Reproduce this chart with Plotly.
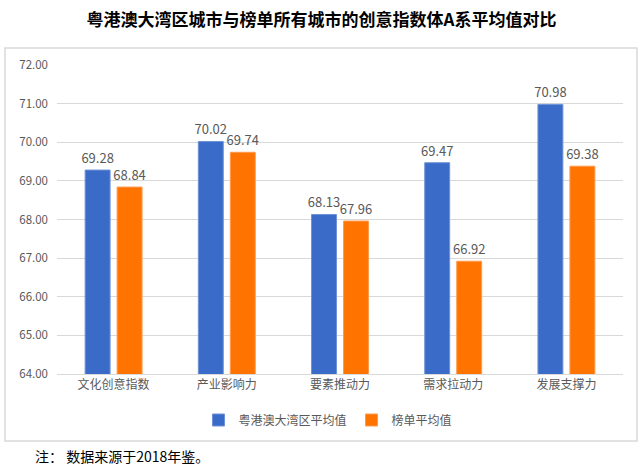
import plotly.graph_objects as go

categories = ["文化创意指数", "产业影响力", "要素推动力", "需求拉动力", "发展支撑力"]
gba_avg = [69.28, 70.02, 68.13, 69.47, 70.98]
list_avg = [68.84, 69.74, 67.96, 66.92, 69.38]
series_names = ["粤港澳大湾区平均值", "榜单平均值"]
y_ticks = [64, 65, 66, 67, 68, 69, 70, 71, 72]

W, H = 643, 470
L, R, T, B = 57, 20, 65, 96
pw, ph = W - L - R, H - T - B

def px_x(x):
    return (x - L) / pw

def px_y(y):
    return (H - B - y) / ph

font_cjk = "Noto Sans CJK SC, Open Sans, sans-serif"
grey = "#595959"

fig = go.Figure()
fig.add_trace(go.Bar(
    x=categories, y=gba_avg, name=series_names[0],
    marker=dict(color="#3A6BC8", line=dict(color="#6E92D6", width=1)),
    text=[f"{v:.2f}" for v in gba_avg], textposition="outside",
    constraintext="none", textangle=0,
    textfont=dict(color=grey, size=13), cliponaxis=False,
))
fig.add_trace(go.Bar(
    x=categories, y=list_avg, name=series_names[1],
    marker=dict(color="#FF7400", line=dict(color="#FF9A4D", width=1)),
    text=[f"{v:.2f}" for v in list_avg], textposition="outside",
    constraintext="none", textangle=0,
    textfont=dict(color=grey, size=13), cliponaxis=False,
))

fig.update_layout(
    width=W, height=H,
    margin=dict(l=L, r=R, t=T, b=B),
    paper_bgcolor="white", plot_bgcolor="white",
    font=dict(family=font_cjk, color=grey, size=12),
    barmode="group", bargap=0.435, bargroupgap=0.22,
    showlegend=True,
    legend=dict(orientation="h", x=px_x(328), xanchor="center",
                y=px_y(420), yanchor="middle",
                font=dict(size=12, color=grey), traceorder="normal",
                itemwidth=30),
    title=dict(text="<b>粤港澳大湾区城市与榜单所有城市的创意指数体A系平均值对比</b>",
               x=0.5, xanchor="center", y=1 - 20 / H, yanchor="middle",
               yref="container",
               font=dict(family=font_cjk, size=17, color="black")),
    xaxis=dict(showline=True, linecolor="#D9D9D9", linewidth=1,
               ticks="", tickfont=dict(size=12, color=grey)),
    yaxis=dict(range=[64, 72], tickvals=y_ticks,
               ticktext=[f"{v:.2f}" for v in y_ticks],
               showgrid=True, gridcolor="#D9D9D9", gridwidth=1,
               zeroline=False, showline=False, ticks="",
               ticklabelstandoff=8,
               tickfont=dict(size=11.5, color=grey)),
    shapes=[dict(type="rect", xref="paper", yref="paper",
                 x0=px_x(5), x1=px_x(637), y0=px_y(441), y1=px_y(48),
                 line=dict(color="#D9D9D9", width=1.5), layer="below")],
    annotations=[dict(text="注： 数据来源于2018年鉴。", xref="paper", yref="paper",
                      x=px_x(33), y=px_y(456), xanchor="left", yanchor="middle",
                      showarrow=False, font=dict(size=14, color="black", family=font_cjk))],
)

fig.write_html("out.html")
